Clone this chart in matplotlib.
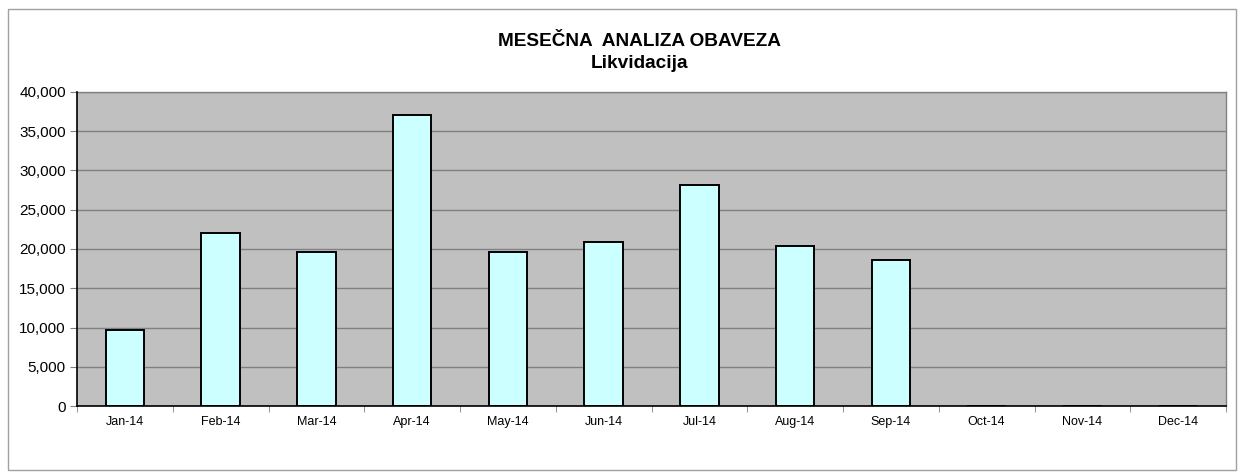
import matplotlib
matplotlib.use("Agg")
import matplotlib.pyplot as plt
from matplotlib.patches import Rectangle
from matplotlib.ticker import FuncFormatter, MultipleLocator, FixedLocator, NullFormatter
import numpy as np

plt.rcParams['font.family'] = ['Liberation Sans', 'DejaVu Sans']

months = ["Jan-14", "Feb-14", "Mar-14", "Apr-14", "May-14", "Jun-14",
          "Jul-14", "Aug-14", "Sep-14", "Oct-14", "Nov-14", "Dec-14"]
values = [9650, 22000, 19650, 37050, 19580, 20930, 28150, 20420, 18560, 0, 0, 0]
title_lines = ["MESEČNA  ANALIZA OBAVEZA", "Likvidacija"]

W, H = 1243, 476
fig = plt.figure(figsize=(W / 100, H / 100), dpi=100)
fig.patches.append(Rectangle((8 / W, 1 - 470 / H), (1236 - 8) / W, (470 - 9) / H,
                             transform=fig.transFigure, fill=False,
                             edgecolor='#A0A0A0', linewidth=1.0))

ax = fig.add_axes([77 / W, 1 - 406 / H, (1226 - 77) / W, (406 - 92) / H])
ax.set_facecolor('#C0C0C0')
x = np.arange(len(months))
ax.bar(x, values, width=0.40, color='#CCFFFF', edgecolor='black', linewidth=1.4, zorder=3)

ax.set_xlim(-0.5, len(months) - 0.5)
ax.set_ylim(0, 40000)
ax.yaxis.set_major_locator(MultipleLocator(5000))
ax.yaxis.set_major_formatter(FuncFormatter(lambda v, p: f"{int(v):,}"))
ax.grid(axis='y', color='#808080', linewidth=1.0, zorder=1)
ax.set_axisbelow(True)

ax.set_xticks(x)
ax.set_xticklabels(months, fontsize=9)
ax.tick_params(axis='x', which='major', length=0, pad=7)
ax.xaxis.set_minor_locator(FixedLocator(np.arange(-0.5, len(months), 1.0)))
ax.xaxis.set_minor_formatter(NullFormatter())
ax.tick_params(axis='x', which='minor', length=4, color='#808080', direction='out')
ax.tick_params(axis='y', labelsize=11, length=5, color='#808080', direction='out', pad=3)

for s in ['left', 'bottom']:
    ax.spines[s].set_color('black')
    ax.spines[s].set_linewidth(1.2)
    ax.spines[s].set_zorder(4)
for s in ['top', 'right']:
    ax.spines[s].set_color('#808080')
    ax.spines[s].set_linewidth(1.0)

fig.text(639 / W, 1 - 42 / H, title_lines[0], ha='center', va='center',
         fontsize=13.7, fontweight='bold')
fig.text(639 / W, 1 - 63 / H, title_lines[1], ha='center', va='center',
         fontsize=13.7, fontweight='bold')

fig.savefig("out.png", dpi=100)
